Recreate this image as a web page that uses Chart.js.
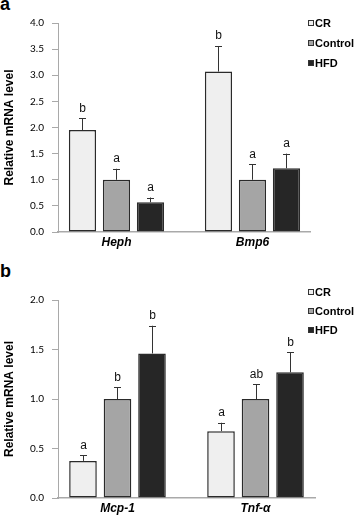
<!DOCTYPE html>
<html>
<head>
<meta charset="utf-8">
<script src="https://cdn.jsdelivr.net/npm/chart.js@4.4.1/dist/chart.umd.min.js"></script>
<style>
  html, body { margin: 0; padding: 0; background: #fff; }
  #wrap { position: relative; width: 358px; height: 519px; overflow: hidden; }
  canvas { position: absolute; left: 0; }
  .panel { position: absolute; left: 0; font: bold 18px "Liberation Sans", Arial, sans-serif; line-height: 18px; color: #000; }
</style>
</head>
<body>
<div id="wrap">
  <div class="panel" style="top:-5px">a</div>
  <canvas id="chartA" width="358" height="258" style="top:0"></canvas>
  <div class="panel" style="top:262px">b</div>
  <canvas id="chartB" width="358" height="259" style="top:260px"></canvas>
</div>
<script>
// series names and colours
const seriesNames = ['CR', 'Control', 'HFD'];
const seriesFill = ['#efefef', '#a5a5a5', '#262626'];

// panel a
const genesA = ['Heph', 'Bmp6'];
const crA = [1.95, 3.07];
const controlA = [1.0, 1.0];
const hfdA = [0.57, 1.22];
const crErrA = [0.23, 0.49];
const controlErrA = [0.21, 0.30];
const hfdErrA = [0.09, 0.28];
const crLetterA = ['b', 'b'];
const controlLetterA = ['a', 'a'];
const hfdLetterA = ['a', 'a'];
const yTicksA = [0, 0.5, 1.0, 1.5, 2.0, 2.5, 3.0, 3.5, 4.0];

// panel b
const genesB = ['Mcp-1', 'Tnf-α'];
const crB = [0.375, 0.675];
const controlB = [1.0, 1.0];
const hfdB = [1.46, 1.27];
const crErrB = [0.055, 0.085];
const controlErrB = [0.12, 0.15];
const hfdErrB = [0.28, 0.20];
const crLetterB = ['a', 'a'];
const controlLetterB = ['b', 'ab'];
const hfdLetterB = ['b', 'b'];
const yTicksB = [0, 0.5, 1.0, 1.5, 2.0];

const FONT = '"Liberation Sans", Arial, sans-serif';
const AXIS_GREY = '#a9a9a9';

function makeDatasets(values, errs, letters) {
    let aCfg = [];
    for (let i = 0; i < seriesNames.length; i++) {
        aCfg.push({
            label: seriesNames[i],
            data: values[i].map((v, j) => ({x: j + 1, y: v})),
            errors: errs[i],
            letters: letters[i],
            backgroundColor: seriesFill[i],
            borderColor: '#2a2a2a',
            borderWidth: 1.5,
            borderSkipped: false,
        });
    }
    return aCfg;
}

// error bars (upward only) and significance letters
const errorBarPlugin = {
    id: 'errorBars',
    afterDatasetsDraw(chart) {
        const ctx = chart.ctx;
        const yScale = chart.scales.y;
        ctx.save();
        chart.data.datasets.forEach((ds, i) => {
            const meta = chart.getDatasetMeta(i);
            meta.data.forEach((bar, j) => {
                const v = ds.data[j].y;
                const yTop = yScale.getPixelForValue(v + ds.errors[j]);
                const x = Math.round(bar.x) + 0.5;
                ctx.strokeStyle = '#333';
                ctx.lineWidth = 1;
                ctx.beginPath();
                ctx.moveTo(x, bar.y);
                ctx.lineTo(x, yTop);
                ctx.moveTo(x - 3.5, Math.round(yTop) + 0.5);
                ctx.lineTo(x + 3.5, Math.round(yTop) + 0.5);
                ctx.stroke();
                ctx.fillStyle = '#111';
                ctx.font = '12px ' + FONT;
                ctx.textAlign = 'center';
                ctx.textBaseline = 'alphabetic';
                ctx.fillText(ds.letters[j], x, yTop - 6.5);
            });
        });
        ctx.restore();
    }
};

// small legend in the top right corner
const cornerLegendPlugin = {
    id: 'cornerLegend',
    afterDraw(chart, args, opts) {
        const ctx = chart.ctx;
        ctx.save();
        ctx.font = 'bold 11px ' + FONT;
        ctx.textAlign = 'left';
        ctx.textBaseline = 'middle';
        chart.data.datasets.forEach((ds, i) => {
            const y = opts.y + i * opts.step;
            ctx.fillStyle = ds.backgroundColor;
            ctx.fillRect(opts.x, y - 3, 6, 6);
            ctx.strokeStyle = '#333';
            ctx.lineWidth = 1;
            ctx.strokeRect(opts.x + 0.5, y - 2.5, 5, 5);
            ctx.fillStyle = '#000';
            ctx.fillText(ds.label, opts.x + 7, y + 0.5);
        });
        ctx.restore();
    }
};

function makeChart(canvasId, genes, datasets, yTicks, yMax, xMin, xMax, padding, legendPos) {
    return new Chart(document.getElementById(canvasId), {
        type: 'bar',
        data: { datasets: datasets },
        plugins: [errorBarPlugin, cornerLegendPlugin],
        options: {
            responsive: false,
            animation: false,
            layout: { padding: padding },
            datasets: {
                bar: { categoryPercentage: 0.75, barPercentage: 0.8 }
            },
            plugins: {
                legend: { display: false },
                tooltip: { enabled: false },
                cornerLegend: legendPos,
            },
            scales: {
                x: {
                    type: 'linear',
                    offset: false,
                    min: xMin,
                    max: xMax,
                    afterBuildTicks: (scale) => {
                        scale.ticks = genes.map((g, i) => ({value: i + 1}));
                    },
                    afterFit: (scale) => { scale.height = 20; },
                    ticks: {
                        autoSkip: false,
                        maxRotation: 0,
                        padding: 3,
                        color: '#000',
                        font: { family: FONT, size: 12, weight: 'bold', style: 'italic' },
                        callback: (v) => genes[Math.round(v) - 1] || '',
                    },
                    grid: { display: false, drawTicks: false },
                    border: { display: true, color: AXIS_GREY, width: 1.5 },
                },
                y: {
                    min: 0,
                    max: yMax,
                    afterBuildTicks: (scale) => {
                        scale.ticks = yTicks.map(v => ({value: v}));
                    },
                    afterFit: (scale) => { scale.width = 58; },
                    ticks: {
                        padding: 8,
                        color: '#000',
                        font: { family: 'Lato, "Open Sans", sans-serif', size: 10 },
                        callback: (v) => v.toFixed(1),
                    },
                    grid: {
                        display: true,
                        drawOnChartArea: false,
                        drawTicks: true,
                        tickLength: 6,
                        color: AXIS_GREY,
                        lineWidth: 1,
                    },
                    border: { display: true, color: AXIS_GREY, width: 1 },
                    title: {
                        display: true,
                        text: 'Relative mRNA level',
                        color: '#000',
                        padding: { top: 2, bottom: 2 },
                        font: { family: FONT, size: 12, weight: 'bold' },
                    },
                },
            },
        },
    });
}

makeChart('chartA', genesA,
    makeDatasets([crA, controlA, hfdA], [crErrA, controlErrA, hfdErrA], [crLetterA, controlLetterA, hfdLetterA]),
    yTicksA, 4.0, 0.570, 2.423,
    { top: 23, right: 48, bottom: 6, left: 0 },
    { x: 308, y: 23, step: 20 });

makeChart('chartB', genesB,
    makeDatasets([crB, controlB, hfdB], [crErrB, controlErrB, hfdErrB], [crLetterB, controlLetterB, hfdLetterB]),
    yTicksB, 2.0, 0.569, 2.431,
    { top: 40, right: 43, bottom: 1, left: 0 },
    { x: 308, y: 32, step: 19 });
</script>
</body>
</html>
